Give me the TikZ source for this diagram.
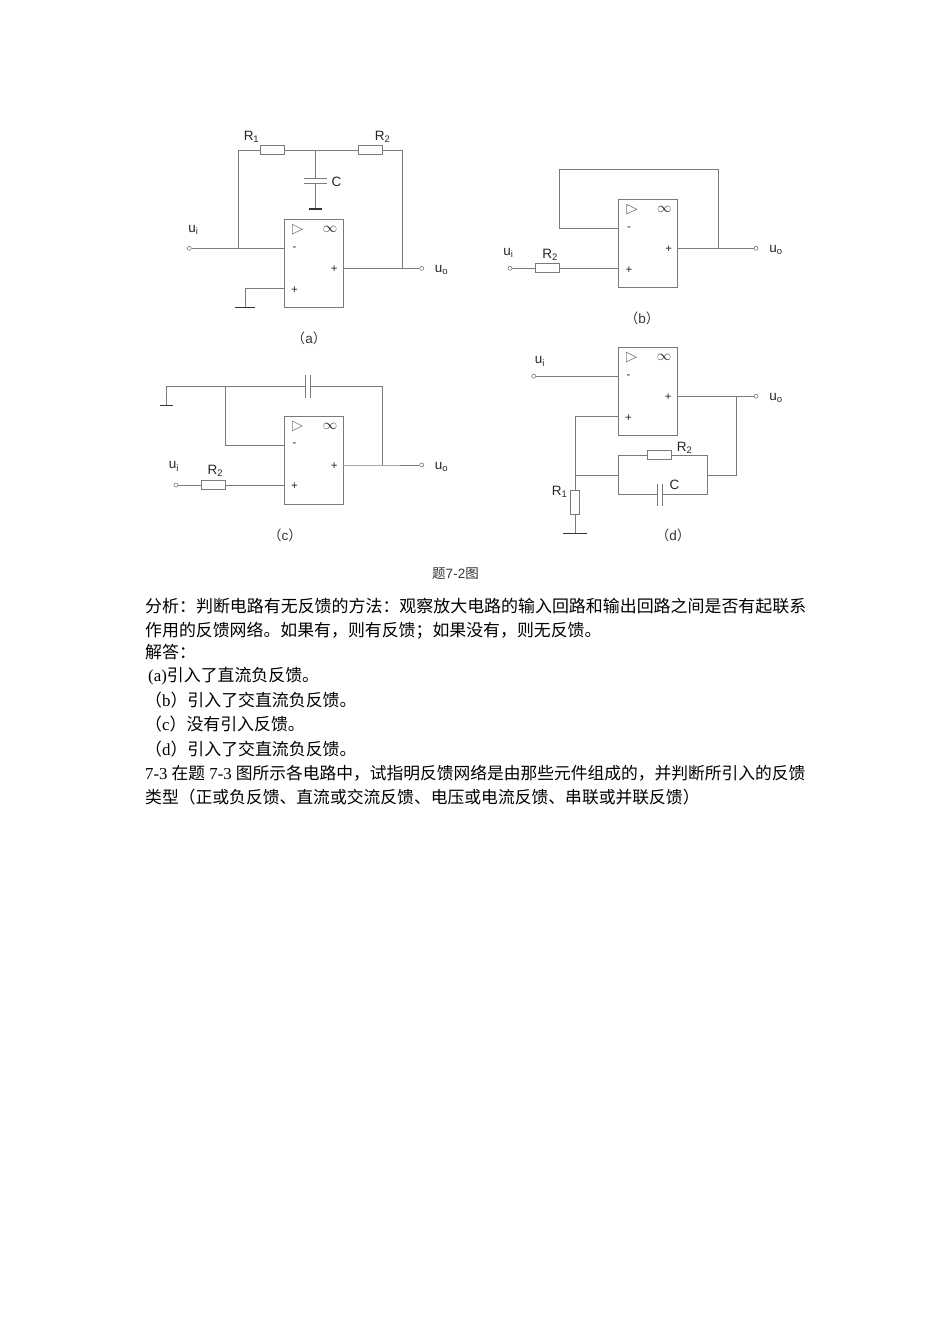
\documentclass[tikz,border=0pt]{standalone}
\usepackage{fontspec}
\setmainfont{Liberation Serif}
\newfontfamily\lsans{Liberation Sans}
\newfontfamily\cjk{Noto Sans CJK SC}
\definecolor{wire}{gray}{0.48}
\tikzset{
  x=1pt,y=-1pt,
  wireline/.style={draw=wire,line width=0.9pt},
  ampbox/.style={draw=wire,line width=0.9pt,minimum width=59pt,minimum height=88pt,inner sep=0pt,fill=white},
  res/.style={draw=wire,line width=0.8pt,fill=white,minimum width=24pt,minimum height=9pt,inner sep=0pt},
  vres/.style={draw=wire,line width=0.8pt,fill=white,minimum width=9.5pt,minimum height=24pt,inner sep=0pt},
  term/.style={circle,draw=wire,line width=0.6pt,fill=white,minimum size=4pt,inner sep=0pt},
  gnd/.style={fill=black!80,minimum width=#1,minimum height=1.5pt,inner sep=0pt},
  lab/.style={inner sep=0pt,font=\lsans\fontsize{13.5}{15}\selectfont,text=black!85},
  sym/.style={inner sep=0pt,font=\lsans\fontsize{11.5}{13}\selectfont,text=black!85},
  captext/.style={inner sep=0pt,font=\fontsize{13.5}{15}\selectfont,text=black!80},
  body/.style={inner sep=0pt,anchor=base west,font=\fontsize{16.9}{20}\selectfont,text=black},
}
\newcommand{\ampA}[3]{%
  \node[ampbox] (#1) at (#2+29.5,#3+44) {};
  \coordinate (#1-im) at (#2,#3+29);
  \coordinate (#1-ip) at (#2,#3+69);
  \coordinate (#1-o) at (#2+59,#3+49);
  \draw[draw=wire,line width=0.6pt] (#2+8,#3+5) -- (#2+18,#3+10) -- (#2+8,#3+14.7) -- cycle;
  \node[sym,font=\fontsize{15}{16}\selectfont] (#1-inf) at (#2+45.7,#3+10) {$\infty$};
  \node[sym] (#1-mn) at (#2+10.3,#3+29.2) {-};
  \node[sym] (#1-pa) at (#2+50,#3+50) {+};
  \node[sym] (#1-pb) at (#2+10.3,#3+70.5) {+};
}
\newcommand{\subl}[2]{#1\textsubscript{#2}}
\begin{document}
\begin{tikzpicture}
\useasboundingbox (0,0) rectangle (950,1344);
\fill[white] (0,0) rectangle (950,1344);

% ---------- (a)
\ampA{A}{284.3}{219.3}
\coordinate (Atl) at (238,150);
\coordinate (Atr) at (402.3,150);
\coordinate (Ajc) at (315.3,150);
\coordinate (Ajo) at (402.3,268.3);
\coordinate (Ajl) at (238,248.3);
\coordinate (Ac1) at (315.3,178);
\coordinate (Ac2) at (315.3,183.3);
\node[term] (Aui) at (189.3,248.3) {};
\node[term] (Auo) at (421.7,268.3) {};
\node[gnd=13pt] (Agc) at (315.3,209) {};
\node[gnd=20pt] (Agi) at (245,307.6) {};
\draw[wireline] (Aui) -- (Ajl) -- (A-im);
\draw[wireline] (Ajl) -- (Atl) -- (Atr) -- (Ajo);
\draw[wireline] (A-o) -- (Ajo) -- (Auo);
\draw[wireline] (Ajc) -- (Ac1) (Ac2) -- (Agc);
\draw[wireline] (A-ip) -| (Agi);
\node[res] (AR1) at (272.3,150) {};
\node[res] (AR2) at (370.7,150) {};
\draw[wire,line width=0.9pt] (304.3,178) -- (326.7,178) (304.3,183.3) -- (326.7,183.3);
\node[lab] (AlR1) at (251.5,136.5) {\subl{R}{1}};
\node[lab] (AlR2) at (382.5,136.5) {\subl{R}{2}};
\node[lab] (AlC) at (336.5,182) {C};
\node[lab] (Alui) at (193.5,230) {\subl{u}{i}};
\node[lab] (Aluo) at (441.5,270) {\subl{u}{o}};
\node[captext] (Acap) at (309,338) {\cjk（\lsans a\cjk）};

% ---------- (b)
\ampA{B}{618.7}{199.3}
\coordinate (Btl) at (559.3,169.3);
\coordinate (Btr) at (718.3,169.3);
\coordinate (Bjo) at (718.3,248.3);
\coordinate (Bbl) at (559.3,228.3);
\node[term] (Bui) at (510,268.3) {};
\node[term] (Buo) at (756,248.3) {};
\draw[wireline] (B-im) -- (Bbl) -- (Btl) -- (Btr) -- (Bjo);
\draw[wireline] (B-o) -- (Bjo) -- (Buo);
\draw[wireline] (Bui) -- (B-ip);
\node[res] (BR2) at (547.7,268.3) {};
\node[lab] (BlR2) at (550,254.5) {\subl{R}{2}};
\node[lab] (Blui) at (508.5,253) {\subl{u}{i}};
\node[lab] (Bluo) at (776,250) {\subl{u}{o}};
\node[captext] (Bcap) at (642,318) {\cjk（\lsans b\cjk）};

% ---------- (c)
\ampA{C}{284.3}{416}
\coordinate (Ctj) at (225.3,386);
\coordinate (Ctl) at (166.3,386);
\coordinate (Ctr) at (382.3,386);
\coordinate (Cjo) at (382.3,465);
\coordinate (Cbl) at (225.3,445);
\node[gnd=12.5pt] (Cg) at (166.3,405.7) {};
\node[term] (Cui) at (176,485) {};
\node[term] (Cuo) at (421.7,465) {};
\draw[wireline] (Cg) -- (Ctl) -- (Ctr) -- (Cjo);
\draw[wireline] (Ctj) -- (Cbl) -- (C-im);
\draw[wireline] (C-o) -- (Cjo) -- (Cuo);
\draw[wireline] (Cui) -- (C-ip);
\fill[white] (305.9,380) rectangle (310.1,392);
\draw[wire,line width=0.9pt] (305.7,375) -- (305.7,397.7) (310.3,375) -- (310.3,397.7);
\node[res] (CR2) at (213.3,485) {};
\node[lab] (ClR2) at (215.5,471) {\subl{R}{2}};
\node[lab] (Clui) at (174,466.5) {\subl{u}{i}};
\node[lab] (Cluo) at (441.5,467) {\subl{u}{o}};
\node[captext] (Ccap) at (285,535) {\cjk（\lsans c\cjk）};

% ---------- (d)
\ampA{D}{618.3}{347.2}
\coordinate (Djo) at (736.7,396.2);
\coordinate (Djb) at (736.7,475.3);
\coordinate (Dlm) at (618.3,475.3);
\coordinate (Drm) at (707,475.3);
\coordinate (Dlt) at (618.3,455.3);
\coordinate (Drt) at (707,455.3);
\coordinate (Dlb) at (618.3,494.3);
\coordinate (Drb) at (707,494.3);
\coordinate (Djr) at (575,475.3);
\coordinate (Dtop) at (575,416.2);
\node[term] (Dui) at (533.7,376.2) {};
\node[term] (Duo) at (756,396.2) {};
\node[gnd=23.5pt] (Dg) at (575,533.7) {};
\draw[wireline] (Dui) -- (D-im);
\draw[wireline] (D-o) -- (Djo) -- (Duo);
\draw[wireline] (Djo) -- (Djb) -- (Drm);
\draw[wireline] (Dlt) -- (Drt) -- (Drb) -- (Dlb) -- cycle;
\draw[wireline] (D-ip) -- (Dtop) -- (Dg);
\draw[wireline] (Djr) -- (Dlm);
\node[res] (DR2) at (659.8,455.3) {};
\node[vres] (DR1) at (575,502.3) {};
\fill[white] (657.5,490) rectangle (662.1,498);
\draw[wire,line width=0.9pt] (657.3,483.7) -- (657.3,505.7) (662.3,483.7) -- (662.3,505.7);
\node[lab] (DlR1) at (559.5,491.5) {\subl{R}{1}};
\node[lab] (DlR2) at (684.5,447.5) {\subl{R}{2}};
\node[lab] (DlC) at (674.5,485) {C};
\node[lab] (Dlui) at (540,361.5) {\subl{u}{i}};
\node[lab] (Dluo) at (776,398) {\subl{u}{o}};
\node[captext] (Dcap) at (673,535) {\cjk（\lsans d\cjk）};

% ---------- text
\node[captext] (title) at (455.5,574) {\cjk 题\lsans 7-2\cjk 图};
\node[body,font=\fontsize{16.95}{20}\selectfont] (t1) at (145,612.5) {\cjk 分析：判断电路有无反馈的方法：观察放大电路的输入回路和输出回路之间是否有起联系};
\node[body] (t2) at (145,636.5) {\cjk 作用的反馈网络。如果有，则有反馈；如果没有，则无反馈。};
\node[body] (t3) at (145,658) {\cjk 解答：};
\node[body] (t4) at (148,681.5) {(a)\cjk 引入了直流负反馈。};
\node[body] (t5) at (145,706) {\cjk（\rmfamily b\cjk）引入了交直流负反馈。};
\node[body] (t6) at (145,730.5) {\cjk（\rmfamily c\cjk）没有引入反馈。};
\node[body] (t7) at (145,755) {\cjk（\rmfamily d\cjk）引入了交直流负反馈。};
\node[body,font=\fontsize{16.75}{20}\selectfont] (t8) at (145,779) {7-3 \cjk 在题\rmfamily{} 7-3 \cjk 图所示各电路中，试指明反馈网络是由那些元件组成的，并判断所引入的反馈};
\node[body,font=\fontsize{16.8}{20}\selectfont] (t9) at (145,803.5) {\cjk 类型（正或负反馈、直流或交流反馈、电压或电流反馈、串联或并联反馈）};
\end{tikzpicture}
\end{document}
